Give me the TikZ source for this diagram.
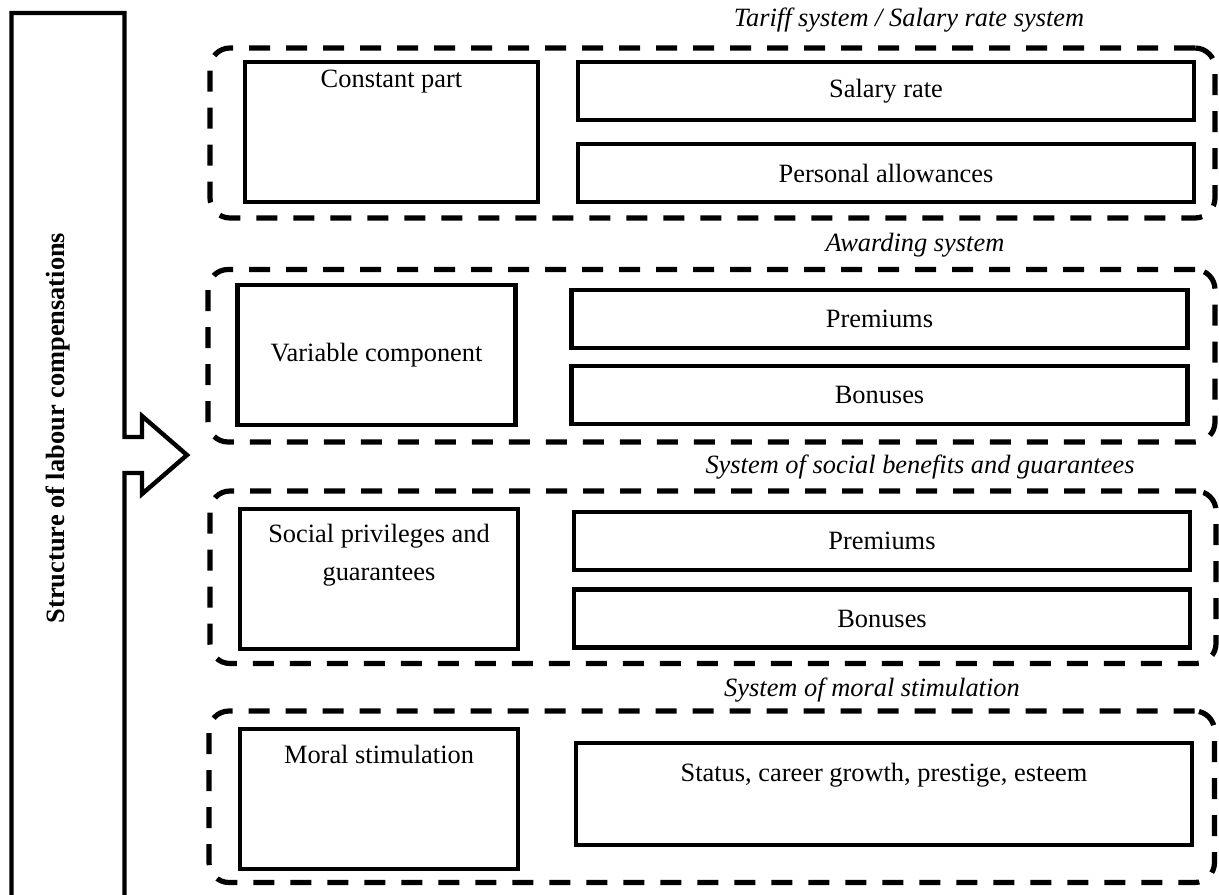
\documentclass[tikz,border=0pt]{standalone}
\usepackage{fontspec}
\setmainfont{Liberation Serif}
\usetikzlibrary{positioning,fit}
\newcommand{\bodyfont}{\fontsize{13.2}{19}\selectfont}
\tikzset{
	box/.style={draw, line width=2.2pt, inner sep=0pt, font=\bodyfont},
	wide/.style={box, minimum width=308pt, minimum height=29pt},
	group/.style={draw, line width=2.6pt, dash pattern=on 10.5pt off 8pt, rounded corners=10pt, inner sep=0pt},
	title/.style={font=\bodyfont\itshape, inner sep=0pt},
	boxtext/.style={font=\bodyfont, inner sep=0pt, align=center},
}
\begin{document}
\begin{tikzpicture}[x=0.5pt, y=-0.5pt]
	\useasboundingbox (0,0) rectangle (1219,894);
	% left bar with arrow
	\draw[line width=2.2pt, line join=miter] (11.5,898) -- (11.5,13) -- (124.5,13) -- (124.5,437) -- (142,437) -- (142,416) -- (187,455) -- (142,494) -- (142,473) -- (124.5,473) -- (124.5,898);
	\node[rotate=90, font=\bodyfont\bfseries] (struct) at (58,428) {Structure of labour compensations};
	% tariff system
	\node[group, fit={(210,48)(1215,218)}] (tariff) {};
	\node[title] at (909,20) {Tariff system / Salary rate system};
	\node[box, minimum width=146.5pt, minimum height=70pt] (const) at (391.5,132) {};
	\node[boxtext, below=5pt of const.north] {Constant part};
	\node[wide] (salary) at (886,91) {Salary rate};
	\node[wide] (allow) at (886,173) {Personal allowances};
	% awarding system
	\node[group, fit={(208,269.5)(1215,442)}] (award) {};
	\node[title] at (915,245) {Awarding system};
	\node[box, minimum width=139pt, minimum height=70pt] (var) at (376.5,355) {Variable component};
	\node[wide] (premA) at (879.5,319) {Premiums};
	\node[wide] (bonA) at (879.5,395) {Bonuses};
	% social benefits
	\node[group, fit={(210,491)(1216,663.5)}] (benefit) {};
	\node[title] at (920,467) {System of social benefits and guarantees};
	\node[box, minimum width=139pt, minimum height=70pt] (social) at (379,579) {};
	\node[boxtext, below=8.5pt of social.north] {Social privileges and\\guarantees};
	\node[wide] (premB) at (882,541) {Premiums};
	\node[wide] (bonB) at (882,618.5) {Bonuses};
	% moral stimulation
	\node[group, fit={(209,711)(1214.5,882.5)}] (moralsys) {};
	\node[title] at (872,690) {System of moral stimulation};
	\node[box, minimum width=139pt, minimum height=70pt] (moral) at (379,799) {};
	\node[boxtext, below=9pt of moral.north] {Moral stimulation};
	\node[box, minimum width=308pt, minimum height=51pt] (status) at (884,794) {};
	\node[boxtext, below=11pt of status.north] {Status, career growth, prestige, esteem};
\end{tikzpicture}
\end{document}
